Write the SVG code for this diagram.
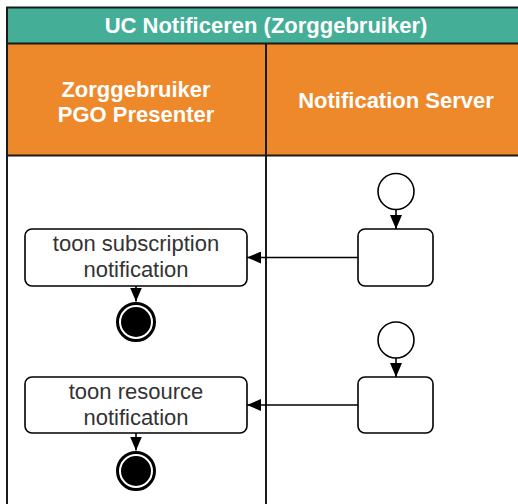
<svg xmlns="http://www.w3.org/2000/svg" width="518" height="504" viewBox="0 0 518 504">
<defs>
<style>
.hdr{font-family:"Liberation Sans",Arial,sans-serif;font-weight:bold;font-size:22px;fill:#ffffff;text-anchor:middle}
.lbl{font-family:"Liberation Sans",Arial,sans-serif;font-size:22px;fill:#333333;text-anchor:middle}
.box{fill:#ffffff;stroke:#000000;stroke-width:1.6}
.ln{stroke:#000000;stroke-width:1.6;fill:none}
.frame{fill:none;stroke:#1a1a1a;stroke-width:2}
</style>
<marker id="arr" markerWidth="14" markerHeight="12" refX="14" refY="6" orient="auto" markerUnits="userSpaceOnUse">
<path d="M0,0 L14,6 L0,12 Z" fill="#000000"/>
</marker>
</defs>
<rect x="0" y="0" width="518" height="504" fill="#ffffff"/>
<g id="pool">
<rect x="7" y="7.5" width="518" height="36" fill="#44AE97"/>
<rect x="7" y="43.5" width="518" height="112" fill="#ED882B"/>
<line x1="7" y1="43.5" x2="525" y2="43.5" class="frame"/>
<line x1="7" y1="155.5" x2="525" y2="155.5" class="frame"/>
<rect x="7" y="7.5" width="518" height="520" class="frame"/>
<line x1="266" y1="43.5" x2="266" y2="510" class="frame"/>
<text x="266" y="33" class="hdr">UC Notificeren (Zorggebruiker)</text>
</g>
<g id="lane-presenter">
<text x="136" y="97" class="hdr">Zorggebruiker</text>
<text x="136" y="122" class="hdr">PGO Presenter</text>
</g>
<g id="lane-server">
<text x="396" y="108" class="hdr">Notification Server</text>
</g>
<g id="connectors">
<line x1="396" y1="210" x2="396" y2="229" class="ln" marker-end="url(#arr)"/>
<line x1="358" y1="257.5" x2="247" y2="257.5" class="ln" marker-end="url(#arr)"/>
<line x1="136" y1="286" x2="136" y2="301.5" class="ln" marker-end="url(#arr)"/>
<line x1="396" y1="358" x2="396" y2="377" class="ln" marker-end="url(#arr)"/>
<line x1="358" y1="405" x2="247" y2="405" class="ln" marker-end="url(#arr)"/>
<line x1="136" y1="433" x2="136" y2="450.5" class="ln" marker-end="url(#arr)"/>
</g>
<g id="start1"><circle cx="396" cy="191.5" r="18" class="box"/></g>
<g id="action1"><rect x="358" y="229" width="75" height="57" rx="7" class="box"/></g>
<g id="toon-subscription">
<rect x="25" y="229" width="222" height="57" rx="7" class="box"/>
<text x="136" y="251" class="lbl">toon subscription</text>
<text x="136" y="277" class="lbl">notification</text>
</g>
<g id="end1">
<circle cx="136" cy="322" r="18.5" fill="#ffffff" stroke="#000000" stroke-width="3"/>
<circle cx="136" cy="322" r="15" fill="#000000"/>
</g>
<g id="start2"><circle cx="396" cy="340" r="18" class="box"/></g>
<g id="action2"><rect x="358" y="377" width="75" height="56" rx="7" class="box"/></g>
<g id="toon-resource">
<rect x="25" y="377" width="222" height="56" rx="7" class="box"/>
<text x="136" y="399" class="lbl">toon resource</text>
<text x="136" y="425" class="lbl">notification</text>
</g>
<g id="end2">
<circle cx="136" cy="471" r="18.5" fill="#ffffff" stroke="#000000" stroke-width="3"/>
<circle cx="136" cy="471" r="15" fill="#000000"/>
</g>
</svg>
